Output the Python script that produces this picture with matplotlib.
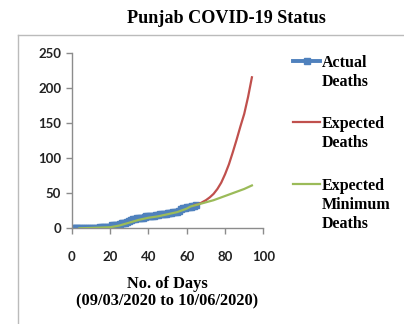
import matplotlib
matplotlib.use("Agg")
import matplotlib.pyplot as plt
from matplotlib.lines import Line2D

# actual deaths, one value per day
actual_days = list(range(0, 66))
actual_deaths = [0, 0, 0, 0, 0, 0, 1, 1, 1, 1, 1, 1, 1, 1, 1, 2, 2, 2, 2, 2,
                 2, 4, 5, 5, 5, 6, 7, 8, 8, 9, 11, 12, 13, 13, 14, 14, 15, 15, 16, 17,
                 17, 18, 18, 18, 19, 19, 20, 20, 21, 21, 22, 22, 22, 23, 23, 23, 25, 28, 29, 29,
                 30, 31, 31, 32, 32, 33]

expected_days = [64, 66, 68, 70, 72, 74, 76, 78, 80, 82, 84, 86, 88, 90, 92, 94]
expected_deaths = [33, 34, 37, 40, 44, 49, 56, 65, 77, 91, 108, 126, 145, 163, 187, 215]

minimum_days = [4, 10, 20, 25, 30, 35, 40, 45, 50, 55, 60, 62, 66, 70, 74, 78, 82, 86, 90, 94]
minimum_deaths = [0, 0.5, 1.5, 4, 8, 12, 15, 17, 20, 23, 28, 31, 34, 37, 40, 44, 48, 52, 56, 61]

labels = ["Actual\nDeaths", "Expected\nDeaths", "Expected\nMinimum\nDeaths"]
colors = ["#4F81BD", "#C0504D", "#9BBB59"]

serif = "Liberation Serif"
tick_font = "Lato"
W, H = 404, 324

fig = plt.figure(figsize=(4.04, 3.24), dpi=100)
ax = fig.add_axes([0.1775, 0.2954, 0.4745, 0.5419])

ax.plot(actual_days, actual_deaths, "-s", color=colors[0], lw=2.8, ms=5, zorder=2)
ax.plot(expected_days, expected_deaths, "-", color=colors[1], lw=1.6, zorder=3)
ax.plot(minimum_days, minimum_deaths, "-", color=colors[2], lw=1.6, zorder=4)

ax.set_xlim(0, 100)
ax.set_ylim(0, 250)
ax.set_xticks([0, 20, 40, 60, 80, 100])
ax.set_yticks([0, 50, 100, 150, 200, 250])
for s in ["top", "right"]:
    ax.spines[s].set_visible(False)
for s in ["left", "bottom"]:
    ax.spines[s].set_color("#8C8C8C")
    ax.spines[s].set_linewidth(1.0)
ax.tick_params(colors="#8C8C8C", length=4, width=1.0, labelcolor="#222222")
ax.tick_params(axis="x", pad=12)
for lab in ax.get_xticklabels() + ax.get_yticklabels():
    lab.set_fontfamily(tick_font)
    lab.set_fontweight("bold")
    lab.set_fontsize(9.5)

ax.set_xlabel("No. of Days\n(09/03/2020 to 10/06/2020)", fontfamily=serif,
              fontweight="bold", fontsize=11.8, labelpad=10, linespacing=1.1)

fig.text(0.56, 0.943, "Punjab COVID-19 Status", ha="center", va="center",
         fontfamily=serif, fontweight="bold", fontsize=13.1)

# legend drawn by hand so each key lines up with the first row of its label
key_y = [61, 122, 184]
for lbl, c, y in zip(labels, colors, key_y):
    yf = 1 - y / H
    lw = 2.8 if c == colors[0] else 1.6
    fig.add_artist(Line2D([293 / W, 320 / W], [yf, yf], transform=fig.transFigure,
                          color=c, lw=lw))
    if c == colors[0]:
        fig.add_artist(Line2D([306.5 / W], [yf], transform=fig.transFigure,
                              color=c, marker="s", ms=5, lw=0))
    fig.text(322 / W, 1 - (y - 6) / H, lbl, ha="left", va="top", fontfamily=serif,
             fontweight="bold", fontsize=11.5, linespacing=1.27)

# outer chart frame (left and top edges visible)
fig.add_artist(Line2D([18 / W, 18 / W], [0, 1 - 35 / H],
                      transform=fig.transFigure, color="#BBBBBB", lw=1))
fig.add_artist(Line2D([18 / W, 1], [1 - 35 / H, 1 - 35 / H],
                      transform=fig.transFigure, color="#BBBBBB", lw=1))

fig.savefig("out.png", dpi=100)
